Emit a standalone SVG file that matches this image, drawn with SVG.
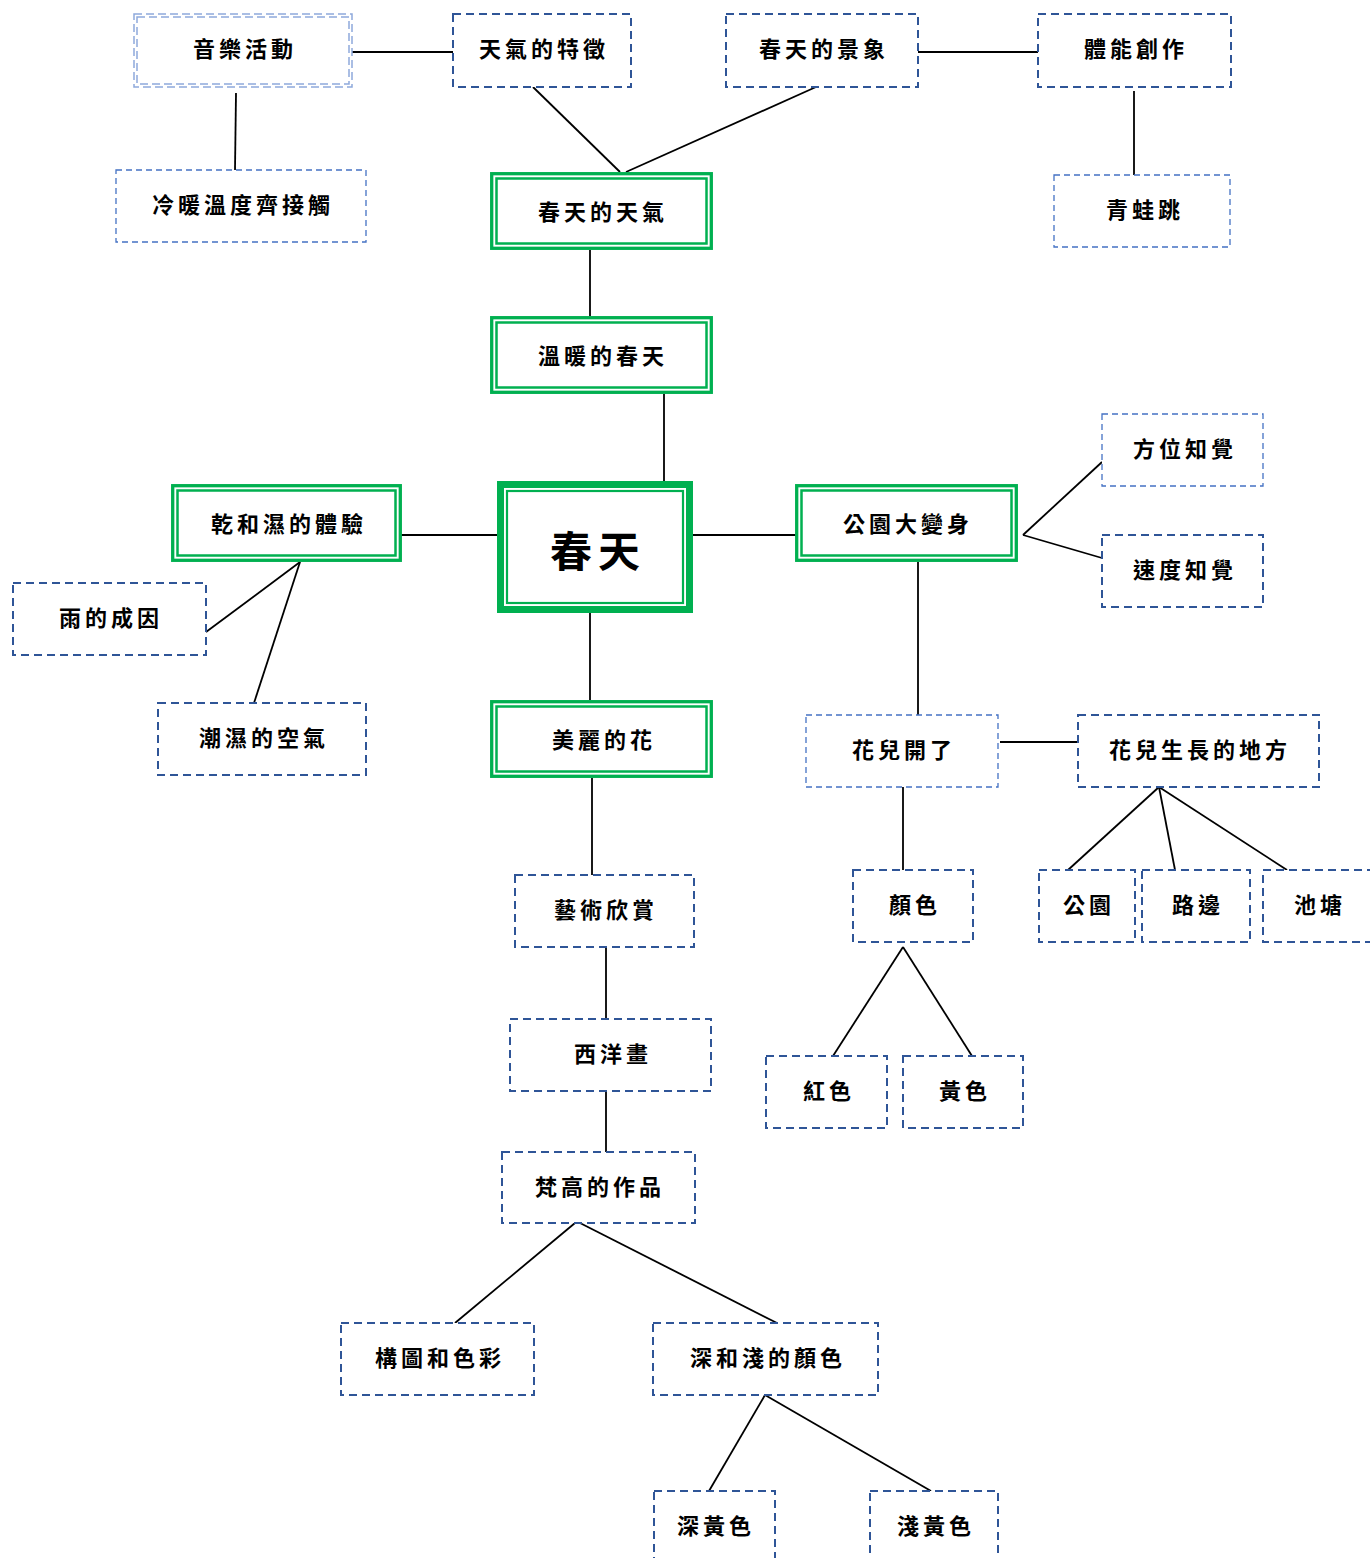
<svg xmlns="http://www.w3.org/2000/svg" width="1370" height="1558" viewBox="0 0 1370 1558">
<style>
text{font-family:"Noto Sans CJK TC","Noto Sans CJK SC",sans-serif;font-weight:700;font-size:22px;letter-spacing:4px;fill:#000;text-anchor:middle;dominant-baseline:central}
.d{fill:#fff;stroke:#2F5597;stroke-width:2;stroke-dasharray:8 5}
.dl{fill:#fff;stroke:#4472C4;stroke-width:1.3;stroke-dasharray:6 4}
.dd{fill:none;stroke:#8EA9DB;stroke-width:1.5;stroke-dasharray:8 4}
.g1{fill:#fff;stroke:#00B050;stroke-width:3.3}
.g2{fill:none;stroke:#00B050;stroke-width:2.5}
.c{stroke:#000;stroke-width:1.8;fill:none}
.big{font-size:42px;letter-spacing:6px}
</style>
<rect width="1370" height="1558" fill="#fff"/>
<g id="connectors">
<line class="c" x1="352" y1="52" x2="453" y2="52"/>
<line class="c" x1="236" y1="93" x2="235" y2="170"/>
<line class="c" x1="533" y1="87" x2="620" y2="172"/>
<line class="c" x1="816" y1="87" x2="626" y2="172"/>
<line class="c" x1="918" y1="52" x2="1038" y2="52"/>
<line class="c" x1="1134" y1="91" x2="1134" y2="175"/>
<line class="c" x1="590" y1="250" x2="590" y2="316"/>
<line class="c" x1="664" y1="394" x2="664" y2="481"/>
<line class="c" x1="398" y1="535" x2="500" y2="535"/>
<line class="c" x1="690" y1="535" x2="798" y2="535"/>
<line class="c" x1="1023" y1="535" x2="1102" y2="462"/>
<line class="c" x1="1023" y1="535" x2="1102" y2="558"/>
<line class="c" x1="300" y1="562" x2="206" y2="632"/>
<line class="c" x1="300" y1="562" x2="254" y2="703"/>
<line class="c" x1="590" y1="607" x2="590" y2="700"/>
<line class="c" x1="592" y1="778" x2="592" y2="875"/>
<line class="c" x1="918" y1="562" x2="918" y2="715"/>
<line class="c" x1="1000" y1="742" x2="1078" y2="742"/>
<line class="c" x1="903" y1="787" x2="903" y2="870"/>
<line class="c" x1="1159" y1="787" x2="1068" y2="870"/>
<line class="c" x1="1159" y1="787" x2="1175" y2="870"/>
<line class="c" x1="1159" y1="787" x2="1287" y2="870"/>
<line class="c" x1="606" y1="947" x2="606" y2="1019"/>
<line class="c" x1="606" y1="1091" x2="606" y2="1152"/>
<line class="c" x1="903" y1="947" x2="833" y2="1056"/>
<line class="c" x1="903" y1="947" x2="972" y2="1056"/>
<line class="c" x1="575" y1="1223" x2="455" y2="1323"/>
<line class="c" x1="580" y1="1223" x2="777" y2="1323"/>
<line class="c" x1="765" y1="1395" x2="709" y2="1491"/>
<line class="c" x1="765" y1="1395" x2="931" y2="1491"/>
</g>
<g id="n-music"><rect class="dd" x="134" y="14" width="218" height="73"/><rect class="dd" x="137" y="17" width="212" height="67"/><text x="245" y="47">音樂活動</text></g>
<g id="n-weatherfeat"><rect class="d" x="453" y="14" width="178" height="73"/><text x="544" y="47">天氣的特徵</text></g>
<g id="n-scene"><rect class="d" x="726" y="14" width="192" height="73"/><text x="824" y="47">春天的景象</text></g>
<g id="n-body"><rect class="d" x="1038" y="14" width="193" height="73"/><text x="1136" y="47">體能創作</text></g>
<g id="n-temp"><rect class="dl" x="116" y="170" width="250" height="72"/><text x="243" y="203">冷暖溫度齊接觸</text></g>
<g id="n-springweather"><rect class="g1" x="491.7" y="173.7" width="219.6" height="74.6"/><rect class="g2" x="496.5" y="178.5" width="210" height="65"/><text x="603" y="210">春天的天氣</text></g>
<g id="n-frog"><rect class="dl" x="1054" y="175" width="176" height="72"/><text x="1145" y="208">青蛙跳</text></g>
<g id="n-warm"><rect class="g1" x="491.7" y="317.7" width="219.6" height="74.6"/><rect class="g2" x="496.5" y="322.5" width="210" height="65"/><text x="603" y="354">溫暖的春天</text></g>
<g id="n-direction"><rect class="dl" x="1102" y="414" width="161" height="72"/><text x="1185" y="447">方位知覺</text></g>
<g id="n-drywet"><rect class="g1" x="172.7" y="485.7" width="227.6" height="74.6"/><rect class="g2" x="177.5" y="490.5" width="218" height="65"/><text x="289" y="522">乾和濕的體驗</text></g>
<g id="n-spring"><rect x="500.5" y="484.5" width="189" height="125" fill="#fff" stroke="#00B050" stroke-width="7"/><rect x="507" y="491" width="176" height="112" fill="none" stroke="#00B050" stroke-width="2.2"/><text class="big" x="598" y="548">春天</text></g>
<g id="n-park"><rect class="g1" x="796.7" y="485.7" width="219.6" height="74.6"/><rect class="g2" x="801.5" y="490.5" width="210" height="65"/><text x="908" y="522">公園大變身</text></g>
<g id="n-speed"><rect class="d" x="1102" y="535" width="161" height="72"/><text x="1185" y="568">速度知覺</text></g>
<g id="n-rain"><rect class="d" x="13" y="583" width="193" height="72"/><text x="111" y="616">雨的成因</text></g>
<g id="n-humid"><rect class="d" x="158" y="703" width="208" height="72"/><text x="264" y="736">潮濕的空氣</text></g>
<g id="n-flower"><rect class="g1" x="491.7" y="701.7" width="219.6" height="74.6"/><rect class="g2" x="496.5" y="706.5" width="210" height="65"/><text x="604" y="738">美麗的花</text></g>
<g id="n-bloom"><rect class="dl" x="806" y="715" width="192" height="72"/><text x="904" y="748">花兒開了</text></g>
<g id="n-where"><rect class="d" x="1078" y="715" width="241" height="72"/><text x="1200" y="748">花兒生長的地方</text></g>
<g id="n-art"><rect class="d" x="515" y="875" width="179" height="72"/><text x="606" y="908">藝術欣賞</text></g>
<g id="n-color"><rect class="d" x="853" y="870" width="120" height="72"/><text x="915" y="903">顏色</text></g>
<g id="n-parkplace"><rect class="d" x="1039" y="870" width="96" height="72"/><text x="1089" y="903">公園</text></g>
<g id="n-road"><rect class="d" x="1142" y="870" width="108" height="72"/><text x="1198" y="903">路邊</text></g>
<g id="n-pond"><rect class="d" x="1263" y="870" width="110" height="72"/><text x="1320" y="903">池塘</text></g>
<g id="n-western"><rect class="d" x="510" y="1019" width="201" height="72"/><text x="613" y="1052">西洋畫</text></g>
<g id="n-red"><rect class="d" x="766" y="1056" width="121" height="72"/><text x="829" y="1089">紅色</text></g>
<g id="n-yellow"><rect class="d" x="903" y="1056" width="120" height="72"/><text x="965" y="1089">黃色</text></g>
<g id="n-vangogh"><rect class="d" x="502" y="1152" width="193" height="71"/><text x="600" y="1185">梵高的作品</text></g>
<g id="n-comp"><rect class="d" x="341" y="1323" width="193" height="72"/><text x="440" y="1356">構圖和色彩</text></g>
<g id="n-darklight"><rect class="d" x="653" y="1323" width="225" height="72"/><text x="768" y="1356">深和淺的顏色</text></g>
<g id="n-darkyellow"><rect class="d" x="654" y="1491" width="121" height="72"/><text x="716" y="1524">深黃色</text></g>
<g id="n-lightyellow"><rect class="d" x="870" y="1491" width="128" height="72"/><text x="936" y="1524">淺黃色</text></g>
</svg>
